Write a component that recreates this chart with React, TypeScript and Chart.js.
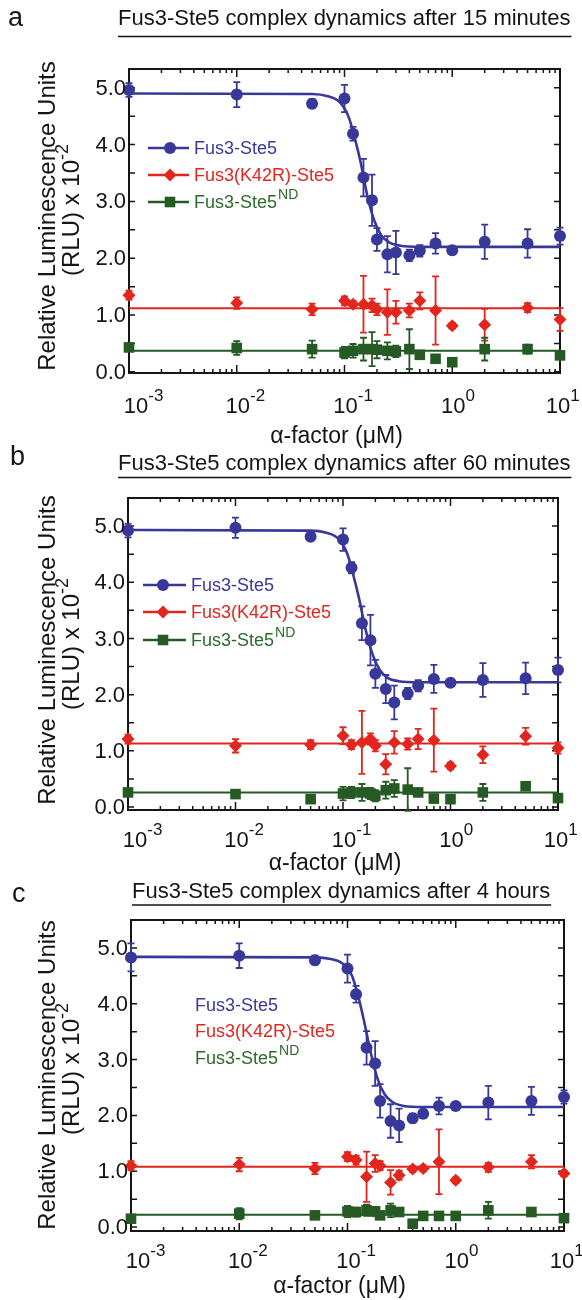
import React, { useEffect, useRef } from "react";
import { Chart, registerables } from "chart.js";

Chart.register(...registerables);

const FONT = "'Liberation Sans', Arial, Helvetica, sans-serif";
const BLUE = "#38389a";
const RED = "#e2261e";
const GREEN = "#255a25";
const GREEN_TEXT = "#2b6b2b";
const INK = "#151515";

// ---------- data ----------
// α-factor concentrations (μM)
const alphaFactor = [0.001, 0.01, 0.05, 0.1, 0.12, 0.15, 0.18, 0.2, 0.25, 0.3, 0.4, 0.5, 0.7, 1, 2, 5, 10];
const xTickExponents = [-3, -2, -1, 0, 1];
const yTickValues = [0, 1, 2, 3, 4, 5];
const seriesLabels = ["Fus3-Ste5", "Fus3(K42R)-Ste5", "Fus3-Ste5"];
const ndSuperscript = "ND";
const xAxisTitle = "α-factor (μM)";
const yAxisTitleLine1 = "Relative Luminescence Units";
const yAxisTitleLine2 = "(RLU) x 10";
const yAxisTitleExp = "-2";

// fitted curve points (x in μM)
const fitX = [0.001, 0.05, 0.07, 0.09, 0.11, 0.125, 0.14, 0.165, 0.19, 0.22, 0.26, 0.33, 0.5, 10];
const fitLevelX = [0.001, 10];

// panel a: 15 minutes
const wt15 = [4.96, 4.88, 4.72, 4.81, 4.19, 3.42, 3.02, 2.33, 2.07, 2.1, 2.05, 2.13, 2.26, 2.14, 2.29, 2.26, 2.39];
const wt15Err = [0.12, 0.22, 0.08, 0.24, 0.12, 0.33, 0.45, 0.2, 0.32, 0.38, 0.1, 0.1, 0.18, 0.07, 0.3, 0.25, 0.15];
const kd15 = [1.35, 1.21, 1.1, 1.25, 1.19, 1.19, 1.17, 1.1, 1.05, 1.05, 1.08, 1.25, 1.08, 0.81, 0.83, 1.13, 0.92];
const kd15Err = [0.08, 0.1, 0.1, 0.08, 0.06, 0.5, 0.12, 0.1, 0.4, 0.2, 0.12, 0.15, 0.6, 0.05, 0.28, 0.08, 0.2];
const nd15 = [0.43, 0.42, 0.4, 0.34, 0.37, 0.4, 0.4, 0.39, 0.37, 0.36, 0.4, 0.3, 0.23, 0.17, 0.4, 0.4, 0.29];
const nd15Err = [0.05, 0.12, 0.15, 0.1, 0.12, 0.2, 0.3, 0.15, 0.15, 0.1, 0.35, 0.05, 0, 0, 0.2, 0.08, 0];
const wt15Fit = [4.9, 4.89, 4.85, 4.75, 4.47, 4.1, 3.72, 3.05, 2.65, 2.4, 2.28, 2.22, 2.2, 2.2];
const kd15Fit = [1.12, 1.12];
const nd15Fit = [0.37, 0.37];

// panel b: 60 minutes
const wt60 = [4.92, 4.97, 4.81, 4.76, 4.26, 3.27, 2.97, 2.37, 2.1, 1.86, 2.02, 2.16, 2.28, 2.21, 2.26, 2.29, 2.44];
const wt60Err = [0.12, 0.18, 0.06, 0.2, 0.1, 0.3, 0.45, 0.25, 0.25, 0.3, 0.1, 0.1, 0.25, 0.05, 0.3, 0.28, 0.22];
const kd60 = [1.21, 1.09, 1.11, 1.27, 1.11, 1.15, 1.21, 1.09, 0.76, 1.15, 1.12, 1.21, 1.19, 0.73, 0.93, 1.26, 1.05];
const kd60Err = [0.08, 0.12, 0.08, 0.15, 0.08, 0.56, 0.1, 0.1, 0.18, 0.2, 0.1, 0.18, 0.56, 0.06, 0.15, 0.15, 0.1];
const nd60 = [0.26, 0.23, 0.14, 0.24, 0.26, 0.26, 0.24, 0.2, 0.3, 0.33, 0.31, 0.26, 0.15, 0.14, 0.26, 0.37, 0.16];
const nd60Err = [0.05, 0.06, 0.05, 0.12, 0.1, 0.15, 0.1, 0.1, 0.15, 0.15, 0.38, 0.05, 0, 0, 0.15, 0.06, 0];
const wt60Fit = [4.93, 4.92, 4.88, 4.78, 4.5, 4.12, 3.74, 3.1, 2.7, 2.44, 2.3, 2.24, 2.22, 2.22];
const kd60Fit = [1.13, 1.13];
const nd60Fit = [0.26, 0.26];

// panel c: 4 hours
const wt4h = [4.83, 4.86, 4.78, 4.63, 4.17, 3.21, 2.93, 2.26, 1.9, 1.82, 1.95, 2.03, 2.17, 2.17, 2.23, 2.26, 2.33];
const wt4hErr = [0.25, 0.22, 0.08, 0.25, 0.15, 0.3, 0.4, 0.3, 0.3, 0.3, 0.08, 0.08, 0.15, 0.05, 0.3, 0.25, 0.12];
const kd4h = [1.1, 1.12, 1.05, 1.26, 1.2, 0.9, 1.14, 1.1, 0.8, 0.93, 1.04, 1.05, 1.17, 0.84, 1.07, 1.17, 0.96];
const kd4hErr = [0.08, 0.12, 0.1, 0.08, 0.08, 0.45, 0.15, 0.08, 0.22, 0.08, 0.05, 0.05, 0.58, 0.05, 0.08, 0.12, 0.05];
const nd4h = [0.15, 0.24, 0.21, 0.28, 0.27, 0.3, 0.28, 0.21, 0.3, 0.27, 0.06, 0.2, 0.2, 0.2, 0.3, 0.27, 0.16];
const nd4hErr = [0.04, 0.1, 0.04, 0.1, 0.08, 0.1, 0.08, 0.05, 0.12, 0.05, 0.04, 0.04, 0.04, 0.04, 0.15, 0.04, 0.04];
const wt4hFit = [4.84, 4.83, 4.8, 4.72, 4.5, 4.15, 3.75, 3.1, 2.65, 2.38, 2.24, 2.17, 2.15, 2.15];
const kd4hFit = [1.08, 1.08];
const nd4hFit = [0.22, 0.22];

// ---------- layout ----------
type Spec = {
  letter: string;
  title: string;
  top: number;
  height: number;
  L: number; R: number; T: number; B: number;
  yMin: number; yMax: number;
  wt: number[]; wtErr: number[]; kd: number[]; kdErr: number[]; nd: number[]; ndErr: number[];
  wtFit: number[]; kdFit: number[]; ndFit: number[];
  markerLegend: boolean;
  legendY: number[]; legendLineX: [number, number]; legendMarkerX: number; legendTextX: number;
  letterX: number; letterY: number;
  titleX: number; titleY: number; underlineY: number;
  xLabelY: number; xTitleY: number; yTitleCY: number;
};

const panels: Spec[] = [
  {
    letter: "a", title: "Fus3-Ste5 complex dynamics after 15 minutes",
    top: 0, height: 450, L: 129, R: 560, T: 69, B: 373, yMin: -0.02, yMax: 5.33,
    wt: wt15, wtErr: wt15Err, kd: kd15, kdErr: kd15Err, nd: nd15, ndErr: nd15Err,
    wtFit: wt15Fit, kdFit: kd15Fit, ndFit: nd15Fit,
    markerLegend: true, legendY: [148, 175, 202], legendLineX: [148, 189], legendMarkerX: 170, legendTextX: 194,
    letterX: 8, letterY: 26, titleX: 118, titleY: 25, underlineY: 36.5,
    xLabelY: 413, xTitleY: 443, yTitleCY: 216,
  },
  {
    letter: "b", title: "Fus3-Ste5 complex dynamics after 60 minutes",
    top: 430, height: 450, L: 128, R: 558, T: 498, B: 810, yMin: -0.053, yMax: 5.5,
    wt: wt60, wtErr: wt60Err, kd: kd60, kdErr: kd60Err, nd: nd60, ndErr: nd60Err,
    wtFit: wt60Fit, kdFit: kd60Fit, ndFit: nd60Fit,
    markerLegend: true, legendY: [585, 612, 640], legendLineX: [143, 186], legendMarkerX: 163, legendTextX: 191,
    letterX: 10, letterY: 465, titleX: 118, titleY: 470, underlineY: 477.5,
    xLabelY: 847, xTitleY: 870, yTitleCY: 650,
  },
  {
    letter: "c", title: "Fus3-Ste5 complex dynamics after 4 hours",
    top: 870, height: 430, L: 131, R: 564, T: 920, B: 1231, yMin: -0.07, yMax: 5.5,
    wt: wt4h, wtErr: wt4hErr, kd: kd4h, kdErr: kd4hErr, nd: nd4h, ndErr: nd4hErr,
    wtFit: wt4hFit, kdFit: kd4hFit, ndFit: nd4hFit,
    markerLegend: false, legendY: [1005, 1031, 1058], legendLineX: [150, 190], legendMarkerX: 170, legendTextX: 195,
    letterX: 12, letterY: 902, titleX: 132, titleY: 898, underlineY: 905,
    xLabelY: 1268, xTitleY: 1293, yTitleCY: 1075,
  },
];

function drawMarker(ctx: CanvasRenderingContext2D, kind: number, x: number, y: number) {
  ctx.beginPath();
  if (kind === 0) {
    ctx.fillStyle = BLUE;
    ctx.arc(x, y, 6, 0, Math.PI * 2);
  } else if (kind === 1) {
    ctx.fillStyle = RED;
    ctx.moveTo(x - 6.5, y); ctx.lineTo(x, y - 6.5); ctx.lineTo(x + 6.5, y); ctx.lineTo(x, y + 6.5);
    ctx.closePath();
  } else {
    ctx.fillStyle = GREEN;
    ctx.rect(x - 5.3, y - 5.3, 10.6, 10.6);
  }
  ctx.fill();
}

function makeDecor(s: Spec) {
  const off = s.top;
  const groups: [number[], number[], string][] = [
    [s.wt, s.wtErr, BLUE],
    [s.kd, s.kdErr, RED],
    [s.nd, s.ndErr, GREEN],
  ];
  return {
    id: "decor",
    beforeDatasetsDraw(chart: any) {
      const ctx: CanvasRenderingContext2D = chart.ctx;
      const xs = chart.scales.x;
      const ys = chart.scales.y;
      const { left, right, top, bottom } = chart.chartArea;
      ctx.save();
      ctx.strokeStyle = INK;
      ctx.lineWidth = 2;
      ctx.strokeRect(left, top, right - left, bottom - top);
      ctx.lineWidth = 1.5;
      for (let k = 0; k * 0.5 <= s.yMax; k++) {
        const py = ys.getPixelForValue(k * 0.5);
        if (py < top + 3 || py > bottom - 1) continue;
        ctx.beginPath();
        ctx.moveTo(left, py); ctx.lineTo(left + 6, py);
        ctx.moveTo(right, py); ctx.lineTo(right - 6, py);
        ctx.stroke();
      }
      for (let e = -3; e <= 1; e++) {
        for (let m = 1; m <= 9; m++) {
          if (e === 1 && m > 1) break;
          const px = xs.getPixelForValue(m * Math.pow(10, e));
          const len = m === 1 ? 8 : 4;
          ctx.beginPath();
          ctx.moveTo(px, bottom); ctx.lineTo(px, bottom - len);
          ctx.moveTo(px, top); ctx.lineTo(px, top + len);
          ctx.stroke();
        }
      }
      ctx.lineWidth = 1.8;
      for (const [vals, errs, color] of groups) {
        ctx.strokeStyle = color;
        vals.forEach((v, i) => {
          const e = errs[i];
          if (!e) return;
          const px = xs.getPixelForValue(alphaFactor[i]);
          const y1 = ys.getPixelForValue(v - e);
          const y2 = ys.getPixelForValue(v + e);
          ctx.beginPath();
          ctx.moveTo(px, y1); ctx.lineTo(px, y2);
          ctx.moveTo(px - 3.5, y1); ctx.lineTo(px + 3.5, y1);
          ctx.moveTo(px - 3.5, y2); ctx.lineTo(px + 3.5, y2);
          ctx.stroke();
        });
      }
      ctx.restore();
    },
    afterDraw(chart: any) {
      const ctx: CanvasRenderingContext2D = chart.ctx;
      const xs = chart.scales.x;
      const ys = chart.scales.y;
      const { left } = chart.chartArea;
      ctx.save();
      ctx.fillStyle = INK;
      // y tick labels
      ctx.font = `22px ${FONT}`;
      ctx.textAlign = "right";
      ctx.textBaseline = "middle";
      yTickValues.forEach((v) => {
        ctx.fillText(v.toFixed(1), left - 3, ys.getPixelForValue(v) + 1);
      });
      // x tick labels 10^n
      ctx.textBaseline = "alphabetic";
      xTickExponents.forEach((e, idx) => {
        const px = xs.getPixelForValue(Math.pow(10, e));
        ctx.font = `22px ${FONT}`;
        const w = ctx.measureText("10").width;
        ctx.textAlign = "left";
        const shift = idx === 0 ? 7 : idx === xTickExponents.length - 1 ? -2 : 1;
        const x0 = px - w / 2 + shift;
        ctx.fillText("10", x0, s.xLabelY - off);
        ctx.font = `17px ${FONT}`;
        ctx.fillText(String(e), x0 + w, s.xLabelY - off - 12);
      });
      // x title
      ctx.font = `23px ${FONT}`;
      ctx.textAlign = "center";
      ctx.fillText(xAxisTitle, (chart.chartArea.left + chart.chartArea.right) / 2 - 8, s.xTitleY - off);
      // y title
      ctx.save();
      ctx.translate(48, s.yTitleCY - off);
      ctx.rotate(-Math.PI / 2);
      ctx.textAlign = "center";
      ctx.textBaseline = "middle";
      ctx.font = `24px ${FONT}`;
      ctx.fillText(yAxisTitleLine1, 0, 0);
      ctx.restore();
      ctx.save();
      ctx.translate(72, s.yTitleCY - off - 6);
      ctx.rotate(-Math.PI / 2);
      ctx.textBaseline = "middle";
      ctx.textAlign = "left";
      ctx.font = `24px ${FONT}`;
      const w1 = ctx.measureText(yAxisTitleLine2).width;
      ctx.font = `18px ${FONT}`;
      const w2 = ctx.measureText(yAxisTitleExp).width;
      const start = -(w1 + w2) / 2;
      ctx.font = `24px ${FONT}`;
      ctx.fillText(yAxisTitleLine2, start, 0);
      ctx.font = `18px ${FONT}`;
      ctx.fillText(yAxisTitleExp, start + w1, -9);
      ctx.restore();
      // panel letter
      ctx.font = `27px ${FONT}`;
      ctx.textAlign = "left";
      ctx.textBaseline = "alphabetic";
      ctx.fillText(s.letter, s.letterX, s.letterY - off);
      // title with underline
      ctx.font = `22px ${FONT}`;
      ctx.fillText(s.title, s.titleX, s.titleY - off);
      const tw = ctx.measureText(s.title).width;
      ctx.strokeStyle = INK;
      ctx.lineWidth = 1.5;
      ctx.beginPath();
      ctx.moveTo(s.titleX, s.underlineY - off);
      ctx.lineTo(s.titleX + tw + 1, s.underlineY - off);
      ctx.stroke();
      // legend
      const colors = [BLUE, RED, GREEN];
      const textColors = [BLUE, RED, GREEN_TEXT];
      seriesLabels.forEach((label, i) => {
        const ly = s.legendY[i] - off;
        if (s.markerLegend) {
          ctx.strokeStyle = colors[i];
          ctx.lineWidth = 2.5;
          ctx.beginPath();
          ctx.moveTo(s.legendLineX[0], ly);
          ctx.lineTo(s.legendLineX[1], ly);
          ctx.stroke();
          drawMarker(ctx, i, s.legendMarkerX, ly);
        }
        ctx.fillStyle = textColors[i];
        ctx.font = `18px ${FONT}`;
        ctx.textAlign = "left";
        ctx.textBaseline = "middle";
        ctx.fillText(label, s.legendTextX, ly + 1);
        if (i === 2) {
          const lw = ctx.measureText(label).width;
          ctx.font = `14px ${FONT}`;
          ctx.fillText(ndSuperscript, s.legendTextX + lw + 1, ly - 7);
        }
      });
      ctx.restore();
    },
  };
}

function Panel({ spec }: { spec: Spec }) {
  const ref = useRef<HTMLCanvasElement>(null);
  useEffect(() => {
    const s = spec;
    const pts = (vals: number[]) => vals.map((y, i) => ({ x: alphaFactor[i], y }));
    const fitPts = (xs: number[], vals: number[]) => vals.map((y, i) => ({ x: xs[i], y }));
    const chart = new Chart(ref.current as HTMLCanvasElement, {
      type: "scatter",
      data: {
        datasets: [
          {
            label: seriesLabels[0], data: pts(s.wt), showLine: false, clip: false,
            pointStyle: "circle", pointRadius: 6, pointBackgroundColor: BLUE, pointBorderColor: BLUE, pointBorderWidth: 0,
          },
          {
            label: seriesLabels[1], data: pts(s.kd), showLine: false, clip: false,
            pointStyle: "rectRot", pointRadius: 6.5, pointBackgroundColor: RED, pointBorderColor: RED, pointBorderWidth: 0,
          },
          {
            label: seriesLabels[2] + ndSuperscript, data: pts(s.nd), showLine: false, clip: false,
            pointStyle: "rect", pointRadius: 7.5, pointBackgroundColor: GREEN, pointBorderColor: GREEN, pointBorderWidth: 0,
          },
          {
            label: "fit wt", data: fitPts(fitX, s.wtFit), showLine: true, pointRadius: 0,
            borderColor: BLUE, borderWidth: 2.6, cubicInterpolationMode: "monotone", fill: false,
          },
          {
            label: "fit K42R", data: fitPts(fitLevelX, s.kdFit), showLine: true, pointRadius: 0,
            borderColor: RED, borderWidth: 2, fill: false,
          },
          {
            label: "fit ND", data: fitPts(fitLevelX, s.ndFit), showLine: true, pointRadius: 0,
            borderColor: GREEN, borderWidth: 2, fill: false,
          },
        ],
      } as any,
      options: {
        responsive: false,
        animation: false,
        devicePixelRatio: 1,
        events: [],
        layout: {
          padding: {
            left: s.L,
            right: 582 - s.R,
            top: s.T - s.top,
            bottom: s.top + s.height - s.B,
          },
        },
        plugins: { legend: { display: false }, tooltip: { enabled: false }, title: { display: false } },
        scales: {
          x: { type: "logarithmic", min: 0.001, max: 10, display: false },
          y: { type: "linear", min: s.yMin, max: s.yMax, display: false },
        },
      } as any,
      plugins: [makeDecor(s)],
    });
    return () => chart.destroy();
  }, [spec]);
  return (
    <canvas
      ref={ref}
      width={582}
      height={spec.height}
      style={{ position: "absolute", left: 0, top: spec.top, width: 582, height: spec.height }}
    />
  );
}

export default function App() {
  return (
    <div style={{ position: "absolute", left: 0, top: 0, width: 582, height: 1300, background: "#ffffff", overflow: "hidden" }}>
      {panels.map((p) => (
        <Panel key={p.letter} spec={p} />
      ))}
    </div>
  );
}
